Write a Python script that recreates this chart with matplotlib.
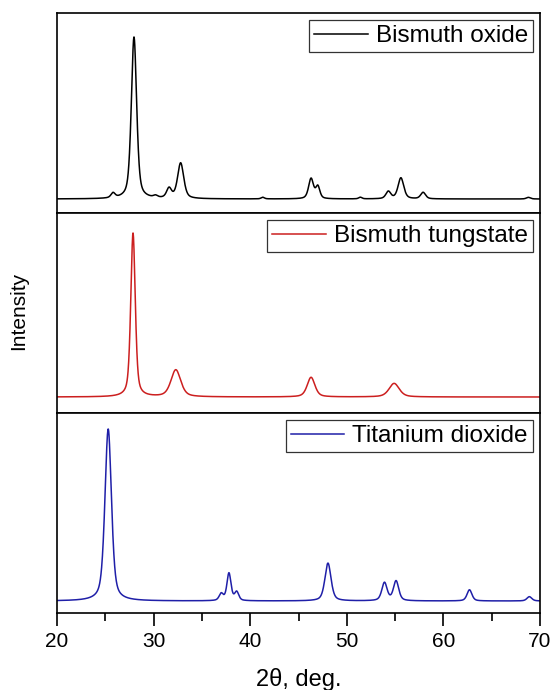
import numpy as np
import matplotlib
matplotlib.use("Agg")
import matplotlib.pyplot as plt
from matplotlib.ticker import MultipleLocator

plt.rcParams['font.family'] = ['Liberation Sans', 'DejaVu Sans']

# Peak tables (2theta position, relative height, FWHM in deg)
bi2o3_pos = [25.8, 27.97, 30.2, 31.6, 32.8, 41.3, 46.3, 47.0, 51.4, 54.3, 55.6, 57.9, 68.8]
bi2o3_hgt = [0.03, 1.00, 0.012, 0.06, 0.22, 0.01, 0.125, 0.075, 0.01, 0.045, 0.13, 0.04, 0.01]
bi2o3_fw  = [0.5, 0.65, 0.5, 0.6, 0.75, 0.4, 0.6, 0.5, 0.4, 0.6, 0.7, 0.6, 0.5]

bi2wo6_pos = [27.87, 32.3, 46.3, 54.9]
bi2wo6_hgt = [1.00, 0.165, 0.12, 0.083]
bi2wo6_fw  = [0.55, 1.2, 0.95, 1.25]

tio2_pos = [25.3, 37.0, 37.8, 38.6, 48.05, 53.9, 55.1, 62.7, 68.9]
tio2_hgt = [1.00, 0.04, 0.16, 0.05, 0.22, 0.105, 0.115, 0.065, 0.025]
tio2_fw  = [0.8, 0.5, 0.5, 0.5, 0.75, 0.65, 0.65, 0.6, 0.6]

labels = ["Bismuth oxide", "Bismuth tungstate", "Titanium dioxide"]
colors = ["#000000", "#cc1f1f", "#1f1fa8"]
xticks = [20, 30, 40, 50, 60, 70]


def pattern(x, pos, hgt, fw, eta=0.5):
    y = np.zeros_like(x)
    for p, h, w in zip(pos, hgt, fw):
        g = np.exp(-4 * np.log(2) * ((x - p) / w) ** 2)
        l = 1.0 / (1 + 4 * ((x - p) / w) ** 2)
        y += h * (eta * l + (1 - eta) * g)
    return y


x = np.linspace(20, 70, 3000)
series = [
    pattern(x, bi2o3_pos, bi2o3_hgt, bi2o3_fw),
    pattern(x, bi2wo6_pos, bi2wo6_hgt, bi2wo6_fw),
    pattern(x, tio2_pos, tio2_hgt, tio2_fw),
]
series = [s / s.max() for s in series]

fig = plt.figure(figsize=(5.54, 6.90), dpi=100)
W, H = 554, 690
left, right = 57, 540
tops = [13, 213, 413]
ph = 200
base_off = [14, 16, 12]
peak_off = [176, 180, 184]
for i in range(3):
    ax = fig.add_axes([left / W, 1 - (tops[i] + ph) / H, (right - left) / W, ph / H])
    s = series[i]
    ax.plot(x, s, color=colors[i], lw=1.1, label=labels[i])
    sc = peak_off[i] - base_off[i]
    ax.set_ylim(-base_off[i] / sc, (ph - base_off[i]) / sc)
    ax.set_xlim(20, 70)
    ax.set_yticks([])
    for sp in ax.spines.values():
        sp.set_linewidth(1.2)
    leg = ax.legend(loc="upper right", fontsize=17.5, frameon=True, fancybox=False,
                    edgecolor="#333333", framealpha=1, handlelength=2.2,
                    handletextpad=0.33, borderpad=0.2, borderaxespad=0.3)
    leg.get_frame().set_linewidth(0.9)
    if i < 2:
        ax.tick_params(axis='x', which='both', bottom=False, labelbottom=False)
    else:
        ax.set_xticks(xticks)
        ax.xaxis.set_minor_locator(MultipleLocator(5))
        ax.tick_params(axis='x', which='major', direction='out', length=9, width=1.2,
                       labelsize=15, pad=5)
        ax.tick_params(axis='x', which='minor', direction='out', length=6, width=1.2)
        ax.set_xlabel("2θ, deg.", fontsize=17, labelpad=12)

fig.text(19 / W, 1 - 311 / H, "Intensity", rotation=90, fontsize=15,
         ha='center', va='center')

fig.savefig("out.png", dpi=100)
